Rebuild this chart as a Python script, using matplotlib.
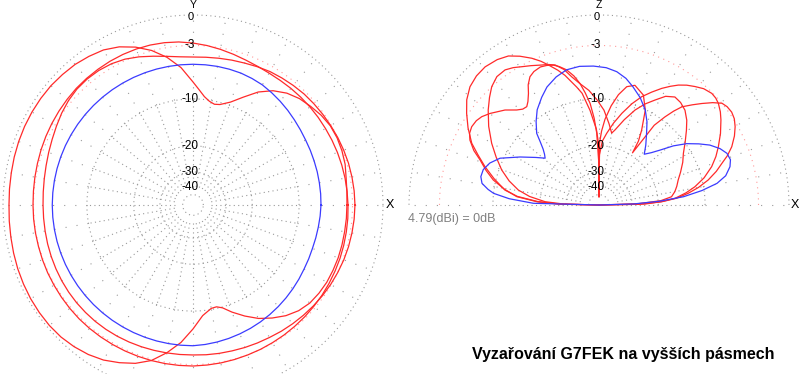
import numpy as np
import matplotlib
matplotlib.use('Agg')
import matplotlib.pyplot as plt
import matplotlib.transforms as mtransforms

plt.rcParams['font.family'] = ['Liberation Sans', 'DejaVu Sans']

# --- azimuth pattern (X-Y plane), angle from +X counter-clockwise, gain in dB
az_deg = list(range(0, 361, 5))

az_blue_db = ([-6.78, -6.76, -6.74, -6.70, -6.66, -6.59, -6.51, -6.37, -6.20, -6.00, -5.80, -5.60,
               -5.40, -5.29, -5.20, -5.17] + [-5.15] * 39 +
              [-5.24, -5.35, -5.47, -5.60, -5.73, -5.87, -6.02, -6.17, -6.32, -6.47, -6.61, -6.75,
               -6.83, -6.90, -6.90, -6.88, -6.83, -6.78])

az_r2_db = ([-3.49, -3.53, -3.56, -3.60, -3.64, -3.68, -3.72, -3.74, -3.76, -3.78, -3.80, -3.82,
             -3.80, -3.72, -3.58, -3.38, -3.16, -2.94, -2.74, -2.56, -2.44, -2.36, -2.32, -2.31,
             -2.32, -2.35, -2.38, -2.42, -2.49, -2.56, -2.63, -2.70, -2.77, -2.84, -2.89, -2.93,
             -2.95, -2.95, -2.95, -2.95, -2.93, -2.91, -2.90, -2.88, -2.86] + [-2.84] * 10 +
            [-2.88, -2.91, -2.95, -2.99, -3.02, -3.06, -3.09, -3.13, -3.16, -3.20, -3.23, -3.27,
             -3.31, -3.34, -3.38, -3.42, -3.45, -3.49])

az_r3_db = [-2.74, -2.76, -2.80, -2.84, -2.91, -2.98, -3.06, -3.13, -3.20, -3.27, -3.38, -3.49,
            -3.60, -3.77, -3.94, -4.06, -4.17, -4.25, -4.29, -4.20, -3.95, -3.60, -3.20, -2.85,
            -2.62, -2.50, -2.47, -2.52, -2.68, -2.92, -3.20, -3.45, -3.65, -3.82, -3.94, -4.02,
            -4.06, -4.06, -4.04, -4.00, -3.96, -3.92, -3.88, -3.85, -3.83, -3.83, -3.83, -3.85,
            -3.88, -3.92, -3.96, -4.00, -4.03, -4.05, -4.06, -4.02, -3.98, -3.94, -3.87, -3.80,
            -3.72, -3.60, -3.49, -3.38, -3.27, -3.16, -3.06, -2.98, -2.90, -2.84, -2.80, -2.76,
            -2.74]

az_r1_deg = [0, 5, 10, 15, 20, 25, 30, 35, 40, 45, 50, 55, 60, 65, 70, 75, 78, 81, 84, 87, 90,
             95, 100, 105, 110, 115, 120, 125, 130, 135, 140, 145, 150, 155, 160, 165, 170, 175,
             180, 185, 190, 195, 200, 205, 210, 215, 220, 225, 230, 235, 240, 245, 250, 255, 260,
             265, 270, 275, 280, 283, 286, 290, 295, 300, 305, 310, 315, 320, 325, 330, 335, 340,
             345, 350, 355, 360]
az_r1_db = [-3.61, -3.55, -3.44, -3.22, -3.11, -3.06, -3.11, -3.33, -3.66, -4.0, -4.52, -5.3,
            -6.45, -8.03, -9.46, -10.34, -10.51, -10.18, -9.54, -8.54, -7.46, -5.49, -4.06,
            -2.95, -2.11, -1.46, -1.02, -0.79, -0.6, -0.5, -0.41, -0.38, -0.37, -0.38, -0.41,
            -0.45, -0.5, -0.53, -0.55, -0.51, -0.46, -0.39, -0.32, -0.27, -0.23, -0.22, -0.23,
            -0.3, -0.46, -0.69, -1.02, -1.51, -2.06, -2.84, -4.06, -5.49, -7.33, -9.22, -10.18,
            -10.26, -9.86, -8.77, -7.53, -6.38, -5.49, -4.7, -4.12, -3.77, -3.63, -3.55, -3.55,
            -3.55, -3.58, -3.61, -3.61, -3.61]

# --- elevation pattern (X-Z plane), angle from +X, gain in dB
el_blue_deg = [0, 1.7, 3.5, 5.6, 8, 10.4, 13, 16.3, 19, 22, 25, 28.4, 31.5, 35, 38.5, 42, 45,
               48.3, 52, 56.4, 60, 64, 69, 74, 78, 82.4, 87, 92.3, 98, 103.5, 108.5, 113.8, 118,
               123, 127, 131, 133, 135, 137, 139, 143, 148.7, 154.7, 159, 163, 166.5, 169.5, 172,
               173.7, 176, 178.5, 180]
el_blue_db = [-100, -29.5, -19.8, -13.8, -10.34, -7.89, -6.51, -5.68, -5.36, -5.49, -6.06, -7.05,
              -8.32, -9.86, -11.9, -14.42, -16.18, -17.63, -15.73, -13.61, -11.72, -10.08, -8.62,
              -7.46, -6.58, -5.93, -5.55, -5.36, -5.24, -5.36, -5.86, -6.65, -7.6, -8.84, -10.26,
              -11.9, -13.61, -15.06, -16.07, -16.8, -15.06, -12.37, -9.46, -8.32, -7.74, -7.67,
              -8.03, -9.07, -10.02, -12.82, -18.23, -100]

el_ra_deg = [0, 1, 3, 5, 7.5, 10, 12.9, 16, 18.8, 21, 23.7, 27, 29.9, 32.5, 35, 37.5, 39.6, 42,
             44.6, 47, 49.8, 51.5, 53.2, 55.3, 57.3, 58.3, 60.3, 64, 68, 73.3, 76.8, 80, 83, 86,
             88, 89.5, 90, 90.5, 92, 95.4, 98.6, 100.7, 104.7, 107, 109.9, 112, 114.6, 118,
             121.3, 125, 129.5, 133.5, 137.5, 141.5, 145.3, 149.5, 154.1, 157.5, 161.4, 166, 171,
             174, 176.9, 178.5, 180]
el_ra_db = [-100, -27.2, -18.95, -15.28, -12.82, -10.85, -9.07, -7.6, -6.51, -5.55, -4.64, -3.83,
            -3.27, -2.9, -2.74, -2.79, -2.99, -3.72, -4.69, -5.61, -6.7, -7.89, -9.38, -11.54,
            -19.22, -15.95, -13.61, -10.08, -8.1, -7.19, -7.67, -9.07, -11.02, -13.61, -16.18,
            -19.22, -54.4, -19.22, -15.73, -11.9, -8.92, -7.89, -5.99, -5.12, -4.17, -3.49, -2.8,
            -2.06, -1.47, -1.17, -1.02, -1.12, -1.41, -2.01, -2.84, -3.83, -5.06, -6.38, -7.84,
            -9.7, -11.86, -14.42, -19.56, -26.7, -100]

el_rb_deg = [0, 1.2, 3, 5, 8, 10.8, 14.5, 18.8, 22.5, 26, 30.5, 34.9, 37.5, 40.4, 42.5, 44.7, 48,
             51, 53.8, 56.5, 59, 61.7, 65, 68.5, 72, 76, 80, 83.9, 87, 89.5, 90, 90.5, 91.8, 93.2,
             95, 97, 98.9, 101, 103.5, 106, 108, 110.5, 113, 116, 118.3, 120.5, 122.3, 124.5,
             126.3, 128.5, 130.9, 134.7, 140, 143, 145.5, 148.4, 151, 153.3, 156.5, 159.3, 163,
             166.7, 170.5, 174.2, 177, 178.8, 180]
el_rb_db = [-100, -24.34, -19.22, -15.66, -13.21, -11.42, -9.61, -8.03, -6.98, -6.15, -5.12,
            -4.21, -3.72, -3.3, -3.13, -3.09, -3.33, -3.78, -4.23, -4.78, -5.43, -6.19, -7.25,
            -8.41, -9.94, -11.99, -14.21, -16.65, -18.68, -22.91, -54.4, -24.72, -16.65, -13.41,
            -10.68, -8.92, -7.46, -6.32, -5.36, -4.76, -4.4, -4.17, -4.06, -4.23, -4.56, -5.3,
            -6.25, -7.12, -7.6, -7.53, -7.09, -6.04, -4.95, -4.43, -4.19, -4.12, -4.29, -4.7,
            -5.68, -6.91, -8.17, -9.6, -11.72, -14.28, -19.22, -26.74, -100]

el_rc_deg = [0, 2, 4, 6.5, 10, 13.5, 17.5, 22, 27, 31.5, 36, 40.5, 44, 47.8, 51.5, 54.9, 58.5,
             61.9, 65.5, 69.2, 73.5, 78, 80, 83, 87, 91, 95, 99, 102, 104.5, 107.4, 110, 112.3,
             116, 119.2, 122, 124.8, 128.5, 132.2, 135.5, 139.4, 144.5, 150.1, 155, 160.2, 165,
             169.5, 173, 176.5, 178.5, 180]
el_rc_db = [-100, -26.74, -19.22, -16.42, -15.5, -14.85, -14.21, -13.21, -12.08, -11.19, -9.94,
            -8.62, -7.6, -6.78, -6.38, -6.25, -6.85, -8.03, -9.22, -10.74, -13.02, -15.57,
            -16.42, -14.42, -11.9, -10.18, -8.62, -7.46, -6.38, -5.24, -4.43, -4.11, -3.91,
            -3.49, -3.12, -2.74, -2.47, -2.52, -2.98, -3.66, -4.53, -5.8, -7.35, -8.84, -10.44,
            -12.26, -14.42, -17.14, -21.59, -29.03, -100]

ring_levels = [0, -10, -20, -30, -50]
label_levels = [0, -3, -10, -20, -30, -40]

grid_gray = '#9a9a9a'
pink = '#ff9a9a'
red = '#ff2a2a'
blue = '#3b3bff'


def arrl(db):
    # ARRL log scale, 0.89 per 2 dB
    return 0.89 ** (-np.asarray(db, dtype=float) / 2.0)


def draw_grid(ax, t0, t1):
    th = np.radians(np.linspace(t0, t1, 721))
    for lev in ring_levels:
        ax.plot(th, np.full_like(th, arrl(lev)), color=grid_gray, lw=0.8, ls=(0, (1, 3)), zorder=1)
    ax.plot(th, np.full_like(th, arrl(-3)), color=pink, lw=0.8, ls=(0, (1, 4)), zorder=1)
    stop = t1 + 1 if t1 < 360 else t1
    for a in range(t0, stop, 10):
        t = np.radians(a)
        ax.plot([t, t], [arrl(-40), arrl(-10)], color=grid_gray, lw=0.8, ls=(0, (1, 3)), zorder=1)
        ax.plot([t, t], [arrl(-10), 1.0], color=grid_gray, lw=0.8, ls=(0, (1, 9)), zorder=1)


def draw_labels(ax, fig, axis_name):
    off = mtransforms.offset_copy(ax.transData, fig=fig, x=-3, y=0, units='dots')
    off0 = mtransforms.offset_copy(ax.transData, fig=fig, x=-2, y=-1.5, units='dots')
    for lev in label_levels:
        ax.text(np.pi / 2, arrl(lev), str(lev), transform=off0 if lev == 0 else off,
                ha='center', va='center', fontsize=8.5 if lev else 8, color='black', zorder=5)
    ax.text(np.pi / 2, 1.053, axis_name, ha='center', va='center', fontsize=7.5, zorder=5)


fig = plt.figure(figsize=(8.0, 3.74), dpi=100)

R = 190.0
rmax = 1.08
ax_px = 2 * R * rmax
W, H = 800.0, 374.0

# left: azimuth
cx, cy = 193.0, 205.0
ax1 = fig.add_axes([(cx - R * rmax) / W, (H - cy - R * rmax) / H, ax_px / W, ax_px / H],
                   projection='polar')
ax1.set_ylim(0, rmax)
ax1.axis('off')
draw_grid(ax1, 0, 360)
for deg, db, col in [(az_r1_deg, az_r1_db, red), (az_deg, az_r2_db, red),
                     (az_deg, az_r3_db, red), (az_deg, az_blue_db, blue)]:
    ax1.plot(np.radians(deg), arrl(db), color=col, lw=0.9, zorder=3)
draw_labels(ax1, fig, 'Y')
ax1.text(0, 1.037, 'X', ha='center', va='center', fontsize=9)

# right: elevation
cx2 = 599.0
ax2 = fig.add_axes([(cx2 - R * rmax) / W, (H - cy - R * rmax) / H, ax_px / W, ax_px / H],
                   projection='polar')
ax2.set_ylim(0, rmax)
ax2.axis('off')
draw_grid(ax2, 0, 180)
for deg, db, col in [(el_ra_deg, el_ra_db, red), (el_rb_deg, el_rb_db, red),
                     (el_rc_deg, el_rc_db, red), (el_blue_deg, el_blue_db, blue)]:
    ax2.plot(np.radians(deg), arrl(db), color=col, lw=0.9, zorder=3)
draw_labels(ax2, fig, 'Z')
ax2.text(0, 1.03, 'X', ha='center', va='center', fontsize=9)

fig.text(408 / W, 1 - 219 / H, '4.79(dBi) = 0dB', color='#808080', fontsize=9, va='center')
fig.text(472 / W, 1 - 355 / H, 'Vyzařování G7FEK na vyšších pásmech', fontsize=11.5,
         fontweight='bold', va='center', ha='left')

fig.savefig('out.png', dpi=100)
